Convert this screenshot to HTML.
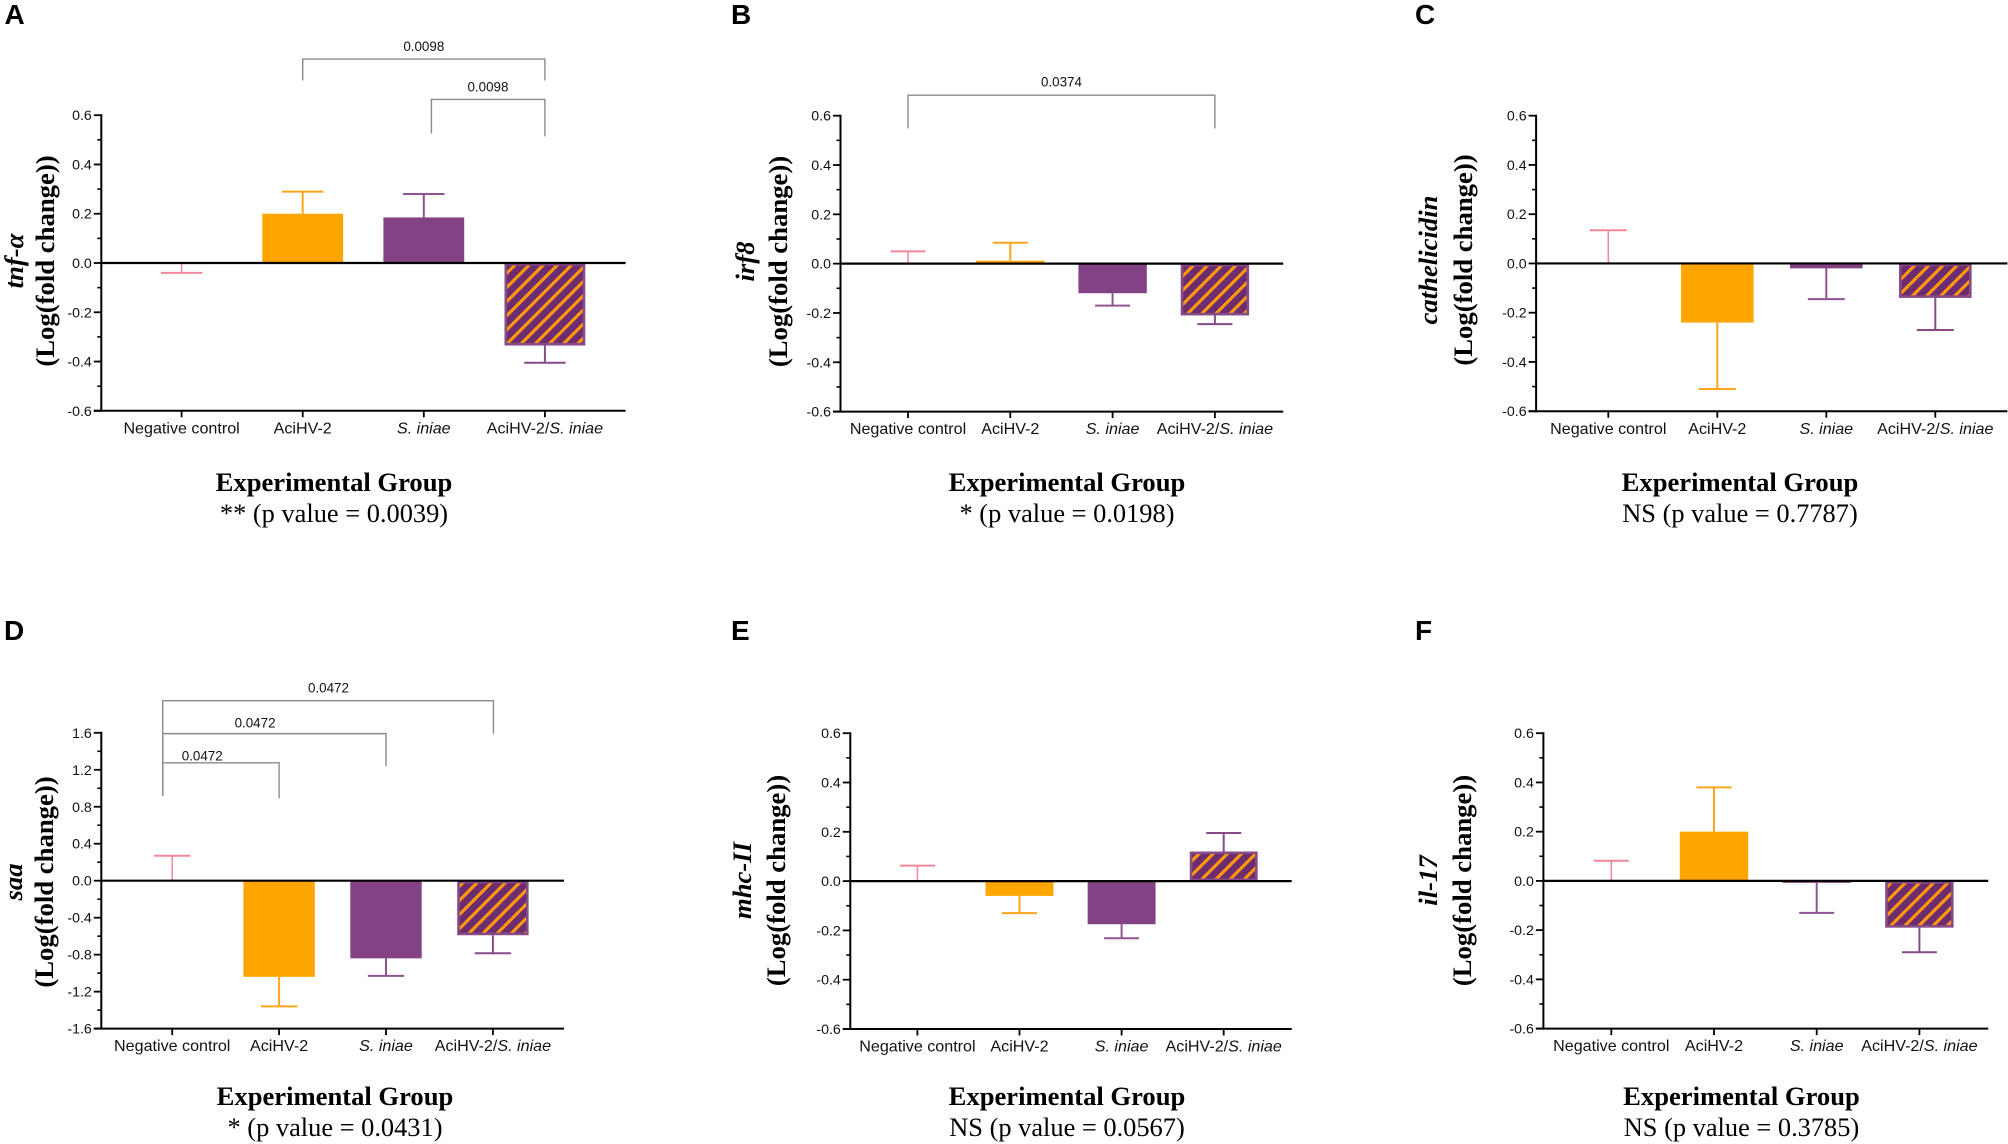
<!DOCTYPE html>
<html lang="en">
<head>
<meta charset="utf-8">
<title>Gene expression by experimental group</title>
<style>
html,body{margin:0;padding:0;background:#fff;width:2008px;height:1144px;overflow:hidden}
svg{display:block}
.letter{font:bold 28px "Liberation Sans",sans-serif;fill:#000}
.ytitle{font:bold 26.7px "Liberation Serif",serif;fill:#000;text-anchor:middle}
.gene{font-style:italic}
.xtitle{font:bold 26.6px "Liberation Serif",serif;fill:#000;text-anchor:middle}
.pval{font:26.4px "Liberation Serif",serif;fill:#000;text-anchor:middle}
.tick{font:14.2px "Liberation Sans",sans-serif;fill:#111;text-anchor:end}
.cat{font:16.1px "Liberation Sans",sans-serif;fill:#111;text-anchor:middle}
.sig{font:13.4px "Liberation Sans",sans-serif;fill:#111;text-anchor:middle}
</style>
</head>
<body>
<svg id="figure" xmlns="http://www.w3.org/2000/svg" width="2008" height="1144" viewBox="0 0 2008 1144">
<defs>
<pattern id="stripes" width="10" height="10" patternUnits="userSpaceOnUse" patternTransform="rotate(45)">
<rect width="10" height="10" fill="#6e2c70"/>
<rect x="0" width="3.1" height="10" fill="#ff9a0a"/>
</pattern>
</defs>
<text class="letter" x="4.5" y="24">A</text>
<text class="letter" x="731" y="24">B</text>
<text class="letter" x="1415" y="24">C</text>
<text class="letter" x="4" y="640">D</text>
<text class="letter" x="731" y="640">E</text>
<text class="letter" x="1415" y="640">F</text>

<text class="ytitle gene" transform="translate(23,261) rotate(-90)">tnf-α</text>
<text class="ytitle" transform="translate(54,261) rotate(-90)">(Log(fold change))</text>
<text class="ytitle gene" transform="translate(754,261.5) rotate(-90)">irf8</text>
<text class="ytitle" transform="translate(787,261.5) rotate(-90)">(Log(fold change))</text>
<text class="ytitle gene" transform="translate(1437,260) rotate(-90)">cathelicidin</text>
<text class="ytitle" transform="translate(1472,260) rotate(-90)">(Log(fold change))</text>
<text class="ytitle gene" transform="translate(22,882) rotate(-90)">saa</text>
<text class="ytitle" transform="translate(53,882) rotate(-90)">(Log(fold change))</text>
<text class="ytitle gene" transform="translate(751,880.5) rotate(-90)">mhc-II</text>
<text class="ytitle" transform="translate(785,880.5) rotate(-90)">(Log(fold change))</text>
<text class="ytitle gene" transform="translate(1437,880.5) rotate(-90)">il-17</text>
<text class="ytitle" transform="translate(1471,880.5) rotate(-90)">(Log(fold change))</text>

<text class="xtitle" x="334" y="491">Experimental Group</text>
<text class="pval" x="334" y="522">** (p value = 0.0039)</text>
<text class="xtitle" x="1067" y="491">Experimental Group</text>
<text class="pval" x="1067" y="522">* (p value = 0.0198)</text>
<text class="xtitle" x="1740" y="491">Experimental Group</text>
<text class="pval" x="1740" y="522">NS (p value = 0.7787)</text>
<text class="xtitle" x="335" y="1105">Experimental Group</text>
<text class="pval" x="335" y="1136">* (p value = 0.0431)</text>
<text class="xtitle" x="1067" y="1105">Experimental Group</text>
<text class="pval" x="1067" y="1136">NS (p value = 0.0567)</text>
<text class="xtitle" x="1741.5" y="1105">Experimental Group</text>
<text class="pval" x="1741.5" y="1136">NS (p value = 0.3785)</text>
</svg>

<script>
const categories = ['Negative control', 'AciHV-2', 'S. iniae', 'AciHV-2/S. iniae'];
const tickLabelsStandard = ['-0.6', '-0.4', '-0.2', '0.0', '0.2', '0.4', '0.6'];
const tickLabelsWide = ['-1.6', '-1.2', '-0.8', '-0.4', '0.0', '0.4', '0.8', '1.2', '1.6'];

const tnfMeans = [0, 0.2, 0.185, -0.335];
const tnfErrorTips = [-0.04, 0.29, 0.28, -0.405];
const irf8Means = [0, 0.012, -0.12, -0.21];
const irf8ErrorTips = [0.05, 0.085, -0.17, -0.245];
const cathelicidinMeans = [0, -0.24, -0.02, -0.14];
const cathelicidinErrorTips = [0.135, -0.51, -0.145, -0.27];
const saaMeans = [0, -1.04, -0.84, -0.59];
const saaErrorTips = [0.27, -1.36, -1.03, -0.785];
const mhcMeans = [0, -0.06, -0.175, 0.12];
const mhcErrorTips = [0.063, -0.13, -0.232, 0.195];
const il17Means = [0, 0.2, -0.008, -0.19];
const il17ErrorTips = [0.082, 0.38, -0.13, -0.29];

/* significance brackets: [from category, to category, top value, left-end value, right-end value, label, label category, label value] */
const tnfBrackets = [
  [1, 3, 0.828, 0.741, 0.741, '0.0098', 2, 0.880],
  [2.063, 3, 0.664, 0.526, 0.514, '0.0098', 2.53, 0.716]
];
const irf8Brackets = [
  [0, 3, 0.683, 0.548, 0.548, '0.0374', 1.5, 0.738]
];
const saaBrackets = [
  [-0.0885, 3.005, 1.947, 0.919, 1.591, '0.0472', 1.462, 2.092],
  [-0.0885, 2, 1.591, 0.919, 1.239, '0.0472', 0.775, 1.712],
  [-0.0885, 1, 1.275, 0.919, 0.891, '0.0472', 0.281, 1.354]
];
const noBrackets = [];

const barFills = ['none', '#ffa500', '#834283', 'url(#stripes)'];
const errorColors = ['#f2879b', '#ffa51c', '#8f5391', '#864a88'];

const panels = [
  { id: 'a', means: tnfMeans, tips: tnfErrorTips, ticks: tickLabelsStandard, brackets: tnfBrackets,
    left: 101.3, top: 115.2, bottom: 410.8, right: 625.6, cat0: 181.6, step: 121.1, barW: 80.8, capW: 41.4 },
  { id: 'b', means: irf8Means, tips: irf8ErrorTips, ticks: tickLabelsStandard, brackets: irf8Brackets,
    left: 840.5, top: 115.7, bottom: 411.6, right: 1283.2, cat0: 908, step: 102.3, barW: 68.4, capW: 35 },
  { id: 'c', means: cathelicidinMeans, tips: cathelicidinErrorTips, ticks: tickLabelsStandard, brackets: noBrackets,
    left: 1536.1, top: 115.7, bottom: 411.2, right: 2007.4, cat0: 1608.3, step: 109, barW: 72.6, capW: 37 },
  { id: 'd', means: saaMeans, tips: saaErrorTips, ticks: tickLabelsWide, brackets: saaBrackets,
    left: 101.3, top: 732.8, bottom: 1028.6, right: 564, cat0: 172.2, step: 106.9, barW: 71.4, capW: 36.3 },
  { id: 'e', means: mhcMeans, tips: mhcErrorTips, ticks: tickLabelsStandard, brackets: noBrackets,
    left: 850.3, top: 733.2, bottom: 1029, right: 1291.7, cat0: 917.4, step: 102.1, barW: 67.9, capW: 35 },
  { id: 'f', means: il17Means, tips: il17ErrorTips, ticks: tickLabelsStandard, brackets: noBrackets,
    left: 1543.4, top: 733.2, bottom: 1028.6, right: 1988.2, cat0: 1611.3, step: 102.7, barW: 68.4, capW: 35 }
];

const SVG_NS = 'http://www.w3.org/2000/svg';
const figure = document.getElementById('figure');

function make(parent, tag, attrs) {
  const node = document.createElementNS(SVG_NS, tag);
  for (const key in attrs) node.setAttribute(key, attrs[key]);
  parent.appendChild(node);
  return node;
}

function drawPanel(p) {
  const yMin = parseFloat(p.ticks[0]);
  const yMax = parseFloat(p.ticks[p.ticks.length - 1]);
  const yScale = v => p.bottom - (v - yMin) / (yMax - yMin) * (p.bottom - p.top);
  const xScale = c => p.cat0 + c * p.step;

  const group = make(figure, 'g', {});
  
  

  categories.forEach((name, i) => {
    const cx = xScale(i);
    const y0 = yScale(0);
    const yv = yScale(p.means[i]);
    const yt = yScale(p.tips[i]);
    const color = errorColors[i];

    const stem = make(group, 'line', { x1: cx, x2: cx, y1: yv, y2: yt, stroke: color, 'stroke-width': i === 0 ? 1.5 : 2 });
    
    

    const cap = make(group, 'line', { x1: cx - p.capW / 2, x2: cx + p.capW / 2, y1: yt, y2: yt, stroke: color, 'stroke-width': 2 });
    
    

    const h = Math.abs(yv - y0);
    const inset = i === 3 ? 1.3 : 0;
    const bar = make(group, 'rect', {
      x: cx - p.barW / 2 + inset,
      y: Math.min(yv, y0) + inset,
      width: p.barW - inset * 2,
      height: Math.max(0, h - inset * 2),
      fill: barFills[i],
      stroke: i === 3 ? '#864a88' : 'none',
      'stroke-width': i === 3 ? 2.6 : 0
    });
    
    

    const tick = make(group, 'line', { x1: cx, x2: cx, y1: p.bottom, y2: p.bottom + 6.5, stroke: '#000', 'stroke-width': 1.8 });
    
    

    const label = make(group, 'text', { class: 'cat', x: cx, y: p.bottom + 22.6 });
    
    
    name.split(/(S\. iniae)/).filter(Boolean).forEach(part => {
      const span = make(label, 'tspan', part === 'S. iniae' ? { 'font-style': 'italic' } : {});
      span.textContent = part;
    });
  });

  const yAxis = make(group, 'line', { x1: p.left, x2: p.left, y1: p.top - 1, y2: p.bottom + 1, stroke: '#000', 'stroke-width': 2 });
  
  

  const xAxis = make(group, 'line', { x1: p.left - 7.5, x2: p.right, y1: p.bottom, y2: p.bottom, stroke: '#000', 'stroke-width': 2 });
  
  

  const zeroLine = make(group, 'line', { x1: p.left, x2: p.right, y1: yScale(0), y2: yScale(0), stroke: '#000', 'stroke-width': 2.2 });
  
  

  p.ticks.forEach((text, i) => {
    const v = parseFloat(text);
    const y = yScale(v);
    const major = make(group, 'line', { x1: p.left - 7.5, x2: p.left, y1: y, y2: y, stroke: '#000', 'stroke-width': 1.8 });
    
    

    const label = make(group, 'text', { class: 'tick', x: p.left - 9.5, y: y + 5 });
    
    
    label.textContent = text;

    if (i < p.ticks.length - 1) {
      const ym = yScale((v + parseFloat(p.ticks[i + 1])) / 2);
      const minor = make(group, 'line', { x1: p.left - 4, x2: p.left, y1: ym, y2: ym, stroke: '#000', 'stroke-width': 1.6 });
      
      
    }
  });

  p.brackets.forEach((b, i) => {
    const x1 = xScale(b[0]);
    const x2 = xScale(b[1]);
    const path = make(group, 'path', {
      d: 'M' + x1 + ' ' + yScale(b[3]) + 'V' + yScale(b[2]) + 'H' + x2 + 'V' + yScale(b[4]),
      fill: 'none',
      stroke: '#8a8a8a',
      'stroke-width': 1.4
    });
    
    

    const label = make(group, 'text', { class: 'sig', x: xScale(b[6]), y: yScale(b[7]) + 5 });
    
    
    label.textContent = b[5];
  });
}

panels.forEach(drawPanel);
</script>
</body>
</html>
